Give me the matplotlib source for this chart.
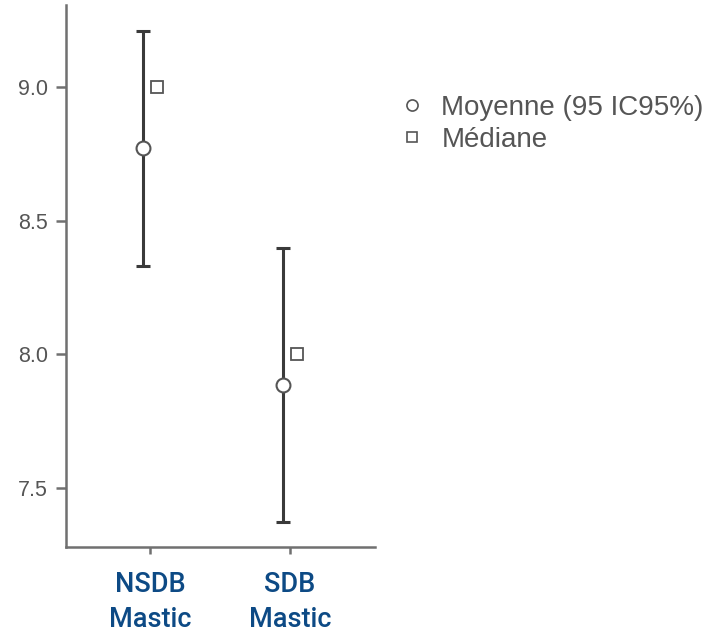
import numpy as np
import matplotlib
matplotlib.use("Agg")
import matplotlib.pyplot as plt
from matplotlib.lines import Line2D

groups = ["NSDB\nMastic", "SDB\nMastic"]
means = [8.773, 7.884]
ci_low = [8.33, 7.374]
ci_high = [9.21, 8.40]
medians = [9.0, 8.0]

ink = "#3a3a3a"
axis_grey = "#707070"
label_blue = "#0d4a85"

fig = plt.figure(figsize=(7.18, 6.36), dpi=100)
ax = fig.add_axes([0.092, 0.140, 0.430, 0.852])

x = np.arange(len(groups))
dodge = 0.05
means = np.array(means)
yerr = [means - np.array(ci_low), np.array(ci_high) - means]

ax.errorbar(x - dodge, means, yerr=yerr, fmt="none", ecolor=ink,
            elinewidth=2.2, capsize=4.8, capthick=2.2, zorder=2)
ax.plot(x - dodge, means, "o", ms=10, mfc="white", mec="#555555", mew=1.5, zorder=3)
ax.plot(x + dodge, medians, "s", ms=9, mfc="white", mec="#555555", mew=1.3, zorder=3)

ax.set_xlim(-0.6, 1.607)
ax.set_ylim(7.28, 9.307)
ax.set_yticks([7.5, 8.0, 8.5, 9.0])
ax.set_yticklabels(["7.5", "8.0", "8.5", "9.0"])
ax.set_xticks(x)
ax.set_xticklabels(groups, fontsize=19.5, color=label_blue, family="Roboto",
                   fontweight="medium", linespacing=1.4)

for side in ["top", "right"]:
    ax.spines[side].set_visible(False)
for side in ["left", "bottom"]:
    ax.spines[side].set_color(axis_grey)
    ax.spines[side].set_linewidth(1.8)

ax.tick_params(axis="y", length=7, width=1.8, color=axis_grey, pad=6,
               labelsize=15.5, labelcolor="#555555")
ax.tick_params(axis="x", length=5, width=1.8, color=axis_grey, pad=12)
for t in ax.get_yticklabels():
    t.set_family("Liberation Sans")

handles = [
    Line2D([], [], ls="none", marker="o", ms=8, mfc="white", mec="#555555", mew=1.2),
    Line2D([], [], ls="none", marker="s", ms=7, mfc="white", mec="#555555", mew=1.2),
]
fig.legend(handles, ["Moyenne (95 IC95%)", "Médiane"], loc="upper left",
           bbox_to_anchor=(0.52, 0.89), frameon=False, handlelength=1.0,
           handletextpad=0.55, labelspacing=0.22,
           prop={"family": "Liberation Sans", "size": 20}, labelcolor="#555555")

fig.savefig("out.png", dpi=100)
